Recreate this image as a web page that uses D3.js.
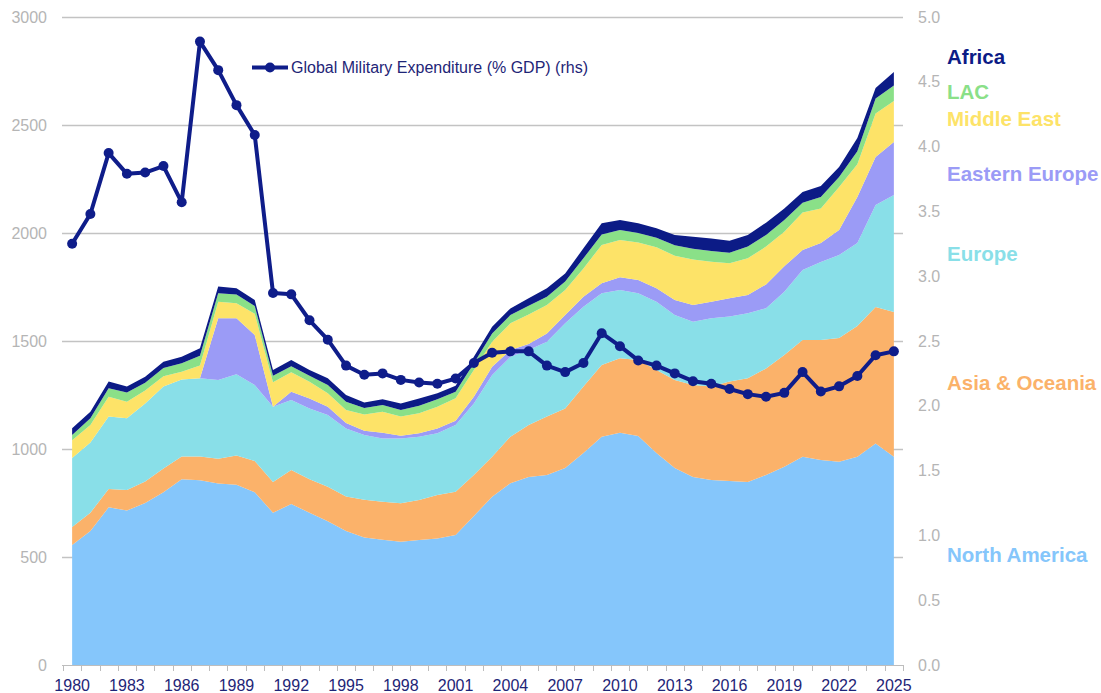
<!DOCTYPE html>
<html>
<head>
<meta charset="utf-8">
<script src="https://cdn.jsdelivr.net/npm/d3@7"></script>
<style>
  body { margin: 0; background: #fff; }
  svg { display: block; font-family: "Liberation Sans", Arial, sans-serif; }
</style>
</head>
<body>
<script>
// years on the category axis
var years = d3.range(1980, 2026);
var xLabelYears = [1980, 1983, 1986, 1989, 1992, 1995, 1998, 2001, 2004, 2007, 2010, 2013, 2016, 2019, 2022, 2025];
var leftTicks = [0, 500, 1000, 1500, 2000, 2500, 3000];
var rightTicks = [0, 0.5, 1, 1.5, 2, 2.5, 3, 3.5, 4, 4.5, 5];

// stacked regional spending (lhs)
var northAmerica = [555, 620, 730, 715, 750, 800, 860, 855, 840, 835, 800, 705, 745, 705, 665, 620, 590, 580, 571, 579,
  586, 602, 690, 779, 842, 870, 880, 912, 981, 1057, 1075, 1060, 981, 912, 870, 856, 852, 847, 880, 918,
  964, 949, 941, 964, 1026, 964];
var asiaOceania = [84, 85, 85, 95, 100, 110, 105, 110, 115, 135, 145, 142, 158, 155, 160, 160, 175, 176, 178, 185,
  201, 200, 190, 185, 215, 241, 270, 276, 308, 332, 345, 352, 385, 407, 426, 433, 460, 480, 493, 517,
  541, 556, 573, 605, 631, 670];
var europe = [319, 325, 335, 332, 361, 379, 357, 362, 364, 376, 351, 349, 324, 328, 332, 315, 300, 293, 300, 293,
  286, 309, 331, 379, 370, 347, 347, 394, 370, 332, 316, 309, 316, 301, 293, 316, 301, 301, 279, 293,
  324, 361, 384, 385, 473, 542];
var easternEurope = [0, 0, 0, 0, 0, 0, 0, 0, 286, 259, 232, 0, 38, 46, 39, 25, 20, 26, 12, 16,
  22, 20, 31, 38, 31, 28, 38, 38, 46, 46, 59, 61, 62, 70, 78, 77, 85, 85, 110, 118,
  92, 88, 116, 213, 222, 245];
var middleEast = [82, 81, 92, 77, 60, 48, 36, 60, 77, 70, 98, 113, 90, 77, 62, 61, 75, 98, 89, 92,
  101, 104, 124, 116, 124, 137, 132, 116, 131, 178, 173, 174, 190, 205, 210, 185, 162, 170, 175, 160,
  174, 160, 199, 151, 201, 190];
var lac = [25, 31, 39, 42, 36, 38, 39, 45, 39, 40, 36, 30, 28, 28, 38, 38, 30, 31, 31, 35,
  34, 30, 31, 38, 38, 40, 38, 39, 47, 48, 46, 44, 44, 48, 50, 50, 49, 54, 54, 54,
  45, 53, 46, 60, 70, 72];
var africa = [31, 31, 31, 28, 28, 29, 30, 34, 31, 29, 28, 27, 29, 27, 31, 31, 25, 26, 30, 34,
  28, 28, 30, 31, 31, 35, 39, 38, 46, 52, 46, 45, 44, 48, 56, 58, 55, 54, 57, 54,
  50, 51, 47, 62, 48, 62];

// global military expenditure, % of GDP (rhs)
var milexGdp = [3.25, 3.48, 3.95, 3.79, 3.80, 3.85, 3.57, 4.81, 4.59, 4.32, 4.09, 2.87, 2.86, 2.66, 2.51, 2.31, 2.24, 2.25, 2.20, 2.18,
  2.17, 2.21, 2.33, 2.41, 2.42, 2.42, 2.31, 2.26, 2.33, 2.56, 2.46, 2.35, 2.31, 2.25, 2.19, 2.17, 2.13, 2.09, 2.07, 2.10,
  2.26, 2.11, 2.15, 2.23, 2.39, 2.42];

var seriesNames = ["North America", "Asia & Oceania", "Europe", "Eastern Europe", "Middle East", "LAC", "Africa"];
var seriesValues = [northAmerica, asiaOceania, europe, easternEurope, middleEast, lac, africa];
var colors = ["#85c6fb", "#fbb26a", "#89dfe8", "#9b9bf6", "#fde368", "#8ae088", "#0c1b86"];
var labelY = [555, 383, 254, 174, 119, 92, 57];

var W = 1101, H = 693;
var svg = d3.select("body").append("svg").attr("width", W).attr("height", H);

var xBand = d3.scaleBand().domain(years).range([63, 903]);
var xc = function(yr) { return xBand(yr) + xBand.bandwidth() / 2; };
var yL = d3.scaleLinear().domain([0, 3000]).range([665, 17]);
var yR = d3.scaleLinear().domain([0, 5]).range([665, 17]);

// table for the stack
var table = years.map(function(yr, i) {
  var row = { year: yr };
  seriesNames.forEach(function(n, k) { row[n] = seriesValues[k][i]; });
  return row;
});
var stacked = d3.stack().keys(seriesNames)(table);

// gridlines
svg.append("g").selectAll("line")
  .data(leftTicks.slice(1))
  .enter().append("line")
  .attr("x1", 62).attr("x2", 903)
  .attr("y1", function(d) { return Math.round(yL(d)) + 0.5; })
  .attr("y2", function(d) { return Math.round(yL(d)) + 0.5; })
  .attr("stroke", "#c3c3c3").attr("stroke-width", 1.3);

// areas
var area = d3.area()
  .x(function(d) { return xc(d.data.year); })
  .y0(function(d) { return yL(d[0]); })
  .y1(function(d) { return yL(d[1]); });

svg.append("g").selectAll("path")
  .data(stacked)
  .enter().append("path")
  .attr("d", area)
  .attr("fill", function(d, i) { return colors[i]; });

// x axis line + ticks between categories
var xAxis = svg.append("g");
xAxis.append("line")
  .attr("x1", 62).attr("x2", 903).attr("y1", 665.5).attr("y2", 665.5)
  .attr("stroke", "#bdbdbd").attr("stroke-width", 1);
xAxis.selectAll("line.tk")
  .data(years.map(function(yr) { return xBand(yr); }).concat([903]))
  .enter().append("line").attr("class", "tk")
  .attr("x1", function(d) { return Math.round(d) + 0.5; })
  .attr("x2", function(d) { return Math.round(d) + 0.5; })
  .attr("y1", 665).attr("y2", 671)
  .attr("stroke", "#bdbdbd");
xAxis.selectAll("text")
  .data(xLabelYears)
  .enter().append("text")
  .attr("x", function(d) { return xc(d); })
  .attr("y", 691)
  .attr("text-anchor", "middle")
  .attr("font-size", 16)
  .attr("fill", "#1e2577")
  .text(function(d) { return d; });

// left axis labels
svg.append("g").selectAll("text")
  .data(leftTicks)
  .enter().append("text")
  .attr("x", 47)
  .attr("y", function(d) { return yL(d); })
  .attr("dy", "0.35em")
  .attr("text-anchor", "end")
  .attr("font-size", 16)
  .attr("fill", "#b5b5b5")
  .text(function(d) { return d; });

// right axis labels
svg.append("g").selectAll("text")
  .data(rightTicks)
  .enter().append("text")
  .attr("x", 918)
  .attr("y", function(d) { return yR(d); })
  .attr("dy", "0.35em")
  .attr("font-size", 16)
  .attr("fill", "#b5b5b5")
  .text(function(d) { return d3.format(".1f")(d); });

// % GDP line
var lineColor = "#0f1d8a";
var line = d3.line()
  .x(function(d, i) { return xc(years[i]); })
  .y(function(d) { return yR(d); });

svg.append("path")
  .datum(milexGdp)
  .attr("d", line)
  .attr("fill", "none")
  .attr("stroke", lineColor)
  .attr("stroke-width", 4)
  .attr("stroke-linejoin", "round");

svg.append("g").selectAll("circle")
  .data(milexGdp)
  .enter().append("circle")
  .attr("cx", function(d, i) { return xc(years[i]); })
  .attr("cy", function(d) { return yR(d); })
  .attr("r", 5)
  .attr("fill", lineColor);

// legend for the line
var leg = svg.append("g");
leg.append("line")
  .attr("x1", 252).attr("x2", 288).attr("y1", 67.5).attr("y2", 67.5)
  .attr("stroke", lineColor).attr("stroke-width", 4);
leg.append("circle").attr("cx", 270).attr("cy", 67.5).attr("r", 5).attr("fill", lineColor);
leg.append("text")
  .attr("x", 291).attr("y", 67.5).attr("dy", "0.35em")
  .attr("font-size", 16)
  .attr("fill", "#1e2577")
  .text("Global Military Expenditure (% GDP) (rhs)");

// series labels on the right
svg.append("g").selectAll("text")
  .data(seriesNames)
  .enter().append("text")
  .attr("x", 947)
  .attr("y", function(d, i) { return labelY[i]; })
  .attr("dy", "0.35em")
  .attr("font-size", 20.5)
  .attr("font-weight", "bold")
  .attr("fill", function(d, i) { return colors[i]; })
  .text(function(d) { return d; });
</script>
</body>
</html>
